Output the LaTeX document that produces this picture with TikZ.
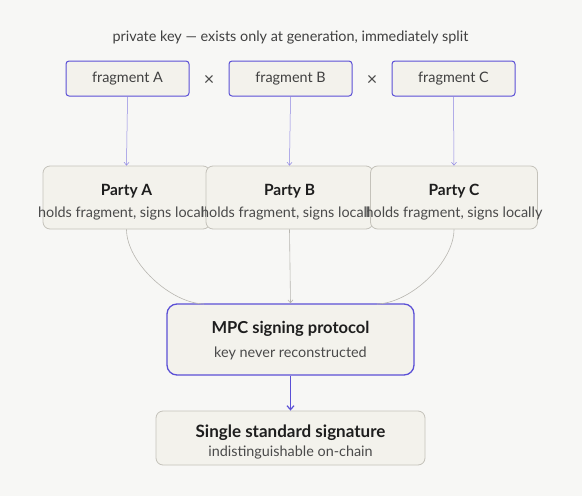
\documentclass[tikz,border=0pt]{standalone}
\usepackage{fontspec}
\setmainfont{Lato}
\usetikzlibrary{arrows.meta}
\definecolor{bg}{HTML}{F7F7F5}
\definecolor{boxfill}{HTML}{F3F2EC}
\definecolor{purp}{HTML}{5B50D6}
\definecolor{grayb}{HTML}{C4C2BA}
\definecolor{lineg}{HTML}{B8B6B0}
\definecolor{titlec}{HTML}{1E1E1E}
\definecolor{subc}{HTML}{4A4A4A}
\tikzset{
  fragbox/.style={draw=purp, line width=1pt, fill=boxfill, rounded corners=3pt, minimum width=123pt, minimum height=35pt, inner sep=0pt, font=\fontsize{14.4}{16}\selectfont, text=titlec!85},
  partybox/.style={draw=grayb, line width=0.8pt, fill=boxfill, rounded corners=7pt, minimum width=167pt, minimum height=63pt, inner sep=0pt},
  mpcbox/.style={draw=purp, line width=1.3pt, fill=boxfill, rounded corners=10pt, minimum width=247pt, minimum height=71pt, inner sep=0pt},
  sigbox/.style={draw=grayb, line width=0.8pt, fill=boxfill, rounded corners=7pt, minimum width=269pt, minimum height=54pt, inner sep=0pt},
  ttl/.style={font=\fontsize{15.5}{18}\selectfont\bfseries, text=titlec, inner sep=0pt},
  sub/.style={font=\fontsize{14.4}{16}\selectfont, text=subc, inner sep=0pt},
  fragarrow/.style={draw=purp!70, line width=0.5pt, -{Straight Barb[length=3pt,width=5pt]}},
  grayarrow/.style={draw=lineg, line width=0.6pt, -{Straight Barb[length=3pt,width=5pt]}},
  grayline/.style={draw=lineg, line width=0.6pt},
  mainarrow/.style={draw=purp, line width=1.2pt, -{Straight Barb[length=4pt,width=7pt]}}
}
\begin{document}
\begin{tikzpicture}[x=1pt,y=-1pt]
\fill[bg] (0,0) rectangle (582,496);
\useasboundingbox (0,0) rectangle (582,496);

\node[sub, text=titlec!85] (title) at (290.5,38) {private key — exists only at generation, immediately split};

\node[fragbox] (fa) at (127.5,78.5) {fragment A};
\node[fragbox] (fb) at (290.5,78.5) {fragment B};
\node[fragbox] (fc) at (453.5,78.5) {fragment C};
\node[font=\fontsize{18}{18}\selectfont, text=subc, inner sep=0pt] (x1) at (209,80) {×};
\node[font=\fontsize{18}{18}\selectfont, text=subc, inner sep=0pt] (x2) at (372,80) {×};

\node[partybox] (pa) at (126.5,197.5) {};
\node[ttl] (pat) at (126.5,191) {Party A};
\node[sub] (pas) at (126.5,214) {holds fragment, signs locally};
\node[partybox] (pb) at (289.5,197.5) {};
\node[ttl] (pbt) at (289.5,191) {Party B};
\node[sub] (pbs) at (289.5,214) {holds fragment, signs locally};
\node[partybox] (pc) at (454,197.5) {};
\node[ttl] (pct) at (454,191) {Party C};
\node[sub] (pcs) at (454,214) {holds fragment, signs locally};

\node[mpcbox] (mpc) at (290.5,339.5) {};
\node[ttl, font=\fontsize{16.5}{19}\selectfont\bfseries] (mpct) at (290.5,329) {MPC signing protocol};
\node[sub] (mpcs) at (290.5,353) {key never reconstructed};

\node[sigbox] (sig) at (290.5,438) {};
\node[ttl, font=\fontsize{17}{19}\selectfont\bfseries] (sigt) at (290.5,433) {Single standard signature};
\node[sub] (sigs) at (290.5,453) {indistinguishable on-chain};

\draw[fragarrow] (fa.south) -- (pa.north);
\draw[fragarrow] (fb.south) -- (pb.north);
\draw[fragarrow] (fc.south) -- (pc.north);

\coordinate (ma) at (204,304);
\coordinate (mc) at (377,304);
\draw[grayline] (pa.south) .. controls (126.5,262) and (170,303) .. (ma);
\draw[grayline] (pc.south) .. controls (454,262) and (411,303) .. (mc);
\draw[grayarrow] (pb.south) -- (mpc.north);
\draw[mainarrow] (mpc.south) -- (sig.north);
\end{tikzpicture}
\end{document}
